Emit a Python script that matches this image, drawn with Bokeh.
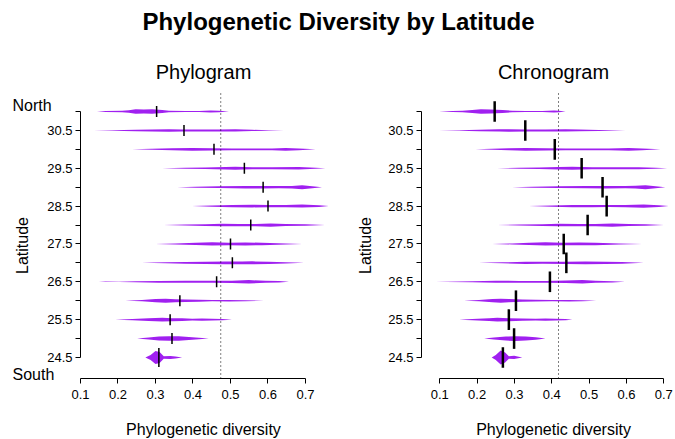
from bokeh.plotting import figure
from bokeh.layouts import column, row
from bokeh.models import Range1d, FixedTicker, Label, LinearAxis
from bokeh.core.properties import value
from bokeh.embed import file_html
from bokeh.resources import INLINE

# ---------------- data ----------------
latitudes = [31.0, 30.5, 30.0, 29.5, 29.0, 28.5, 28.0, 27.5, 27.0, 26.5, 26.0, 25.5, 25.0, 24.5]
y_label_ticks = [24.5, 25.5, 26.5, 27.5, 28.5, 29.5, 30.5]
y_minor_ticks = [25.0, 26.0, 27.0, 28.0, 29.0, 30.0, 31.0]
x_ticks = [0.1, 0.2, 0.3, 0.4, 0.5, 0.6, 0.7]

phylo_medians = [0.303, 0.376, 0.456, 0.537, 0.587, 0.600, 0.554, 0.500, 0.505, 0.463, 0.365, 0.339, 0.344, 0.309]
chrono_medians = [0.247, 0.329, 0.408, 0.480, 0.536, 0.547, 0.496, 0.432, 0.439, 0.395, 0.304, 0.285, 0.299, 0.269]
phylo_overall = 0.474
chrono_overall = 0.418

# density outlines: x positions and relative density (half-thickness)
phylo_shape_x = [
    [0.144, 0.167, 0.211, 0.229, 0.247, 0.269, 0.291, 0.318, 0.336, 0.380, 0.416, 0.447, 0.469, 0.496],
    [0.136, 0.184, 0.247, 0.291, 0.336, 0.371, 0.416, 0.469, 0.513, 0.558, 0.602, 0.642],
    [0.238, 0.291, 0.344, 0.398, 0.451, 0.504, 0.558, 0.611, 0.647, 0.682, 0.727],
    [0.318, 0.380, 0.433, 0.487, 0.513, 0.558, 0.611, 0.682, 0.727, 0.753],
    [0.358, 0.407, 0.469, 0.540, 0.584, 0.629, 0.664, 0.691, 0.718, 0.744],
    [0.398, 0.451, 0.504, 0.558, 0.602, 0.647, 0.691, 0.736, 0.762],
    [0.322, 0.380, 0.433, 0.478, 0.522, 0.567, 0.607, 0.647, 0.700, 0.752],
    [0.300, 0.353, 0.407, 0.451, 0.496, 0.540, 0.584, 0.647, 0.691],
    [0.264, 0.327, 0.380, 0.433, 0.487, 0.531, 0.558, 0.602, 0.647, 0.696],
    [0.149, 0.167, 0.202, 0.247, 0.309, 0.380, 0.451, 0.504, 0.549, 0.593, 0.629, 0.656],
    [0.220, 0.264, 0.300, 0.327, 0.353, 0.380, 0.416, 0.451, 0.496, 0.540, 0.589],
    [0.193, 0.238, 0.282, 0.318, 0.344, 0.371, 0.398, 0.424, 0.451, 0.478, 0.504],
    [0.251, 0.282, 0.309, 0.336, 0.362, 0.389, 0.416, 0.442],
    [0.273, 0.287, 0.300, 0.311, 0.322, 0.340, 0.353, 0.371],
]
phylo_shape_d = [
    [0, 0.5, 0.7, 1.3, 2.2, 2.0, 2.2, 1.5, 0.8, 0.6, 0.6, 1.0, 0.8, 0],
    [0, 0.3, 0.7, 1.0, 1.2, 1.0, 1.0, 1.0, 1.1, 0.6, 0.3, 0],
    [0, 0.5, 1.0, 1.3, 1.1, 0.9, 0.9, 0.9, 1.3, 0.8, 0],
    [0, 0.6, 0.8, 1.3, 1.4, 1.0, 0.9, 1.2, 0.6, 0],
    [0, 0.5, 0.9, 1.2, 1.2, 1.1, 1.3, 2.0, 1.0, 0],
    [0, 0.6, 1.1, 1.3, 1.1, 1.2, 1.5, 0.9, 0],
    [0, 0.5, 0.9, 1.2, 1.1, 1.1, 1.6, 1.0, 0.8, 0],
    [0, 0.5, 1.1, 1.6, 1.3, 1.5, 1.2, 0.5, 0],
    [0, 0.5, 0.9, 1.2, 1.3, 1.3, 1.5, 1.1, 0.7, 0],
    [0, 0.2, 0.1, 0.5, 0.9, 1.0, 1.0, 1.1, 1.7, 1.0, 0.7, 0],
    [0, 0.6, 1.6, 2.0, 1.5, 1.2, 1.0, 0.6, 0.7, 0.5, 0],
    [0, 0.7, 1.3, 1.9, 1.5, 1.3, 0.8, 1.2, 0.9, 0.6, 0],
    [0, 1.0, 2.0, 2.3, 2.2, 1.5, 0.8, 0],
    [0, 2.5, 6.5, 5.5, 1.2, 1.5, 1.0, 0],
]
chrono_shape_x = [
    [0.098, 0.134, 0.161, 0.187, 0.210, 0.236, 0.268, 0.294, 0.330, 0.375, 0.406, 0.419, 0.437],
    [0.098, 0.152, 0.205, 0.259, 0.285, 0.330, 0.383, 0.437, 0.473, 0.526, 0.562, 0.597],
    [0.196, 0.241, 0.285, 0.330, 0.383, 0.437, 0.490, 0.553, 0.606, 0.642, 0.691],
    [0.254, 0.312, 0.366, 0.419, 0.455, 0.508, 0.562, 0.633, 0.678, 0.709],
    [0.294, 0.348, 0.419, 0.490, 0.544, 0.597, 0.624, 0.651, 0.678, 0.704],
    [0.339, 0.401, 0.455, 0.508, 0.553, 0.597, 0.646, 0.687, 0.713],
    [0.254, 0.312, 0.375, 0.419, 0.473, 0.517, 0.562, 0.606, 0.651, 0.700],
    [0.241, 0.294, 0.339, 0.383, 0.428, 0.473, 0.517, 0.580, 0.642],
    [0.205, 0.268, 0.330, 0.375, 0.437, 0.490, 0.544, 0.588, 0.646],
    [0.089, 0.116, 0.187, 0.250, 0.312, 0.383, 0.437, 0.482, 0.517, 0.562, 0.596],
    [0.165, 0.205, 0.241, 0.263, 0.285, 0.321, 0.357, 0.401, 0.446, 0.482, 0.519],
    [0.152, 0.187, 0.232, 0.254, 0.285, 0.321, 0.357, 0.383, 0.410, 0.437, 0.455],
    [0.219, 0.245, 0.277, 0.303, 0.330, 0.357, 0.383],
    [0.239, 0.250, 0.263, 0.275, 0.285, 0.299, 0.321],
]
chrono_shape_d = [
    [0, 0.5, 0.8, 1.5, 2.2, 2.0, 1.5, 0.8, 0.6, 0.6, 1.0, 0.8, 0],
    [0, 0.3, 0.7, 1.1, 1.2, 1.0, 1.0, 1.1, 0.9, 0.5, 0.3, 0],
    [0, 0.5, 1.0, 1.3, 1.1, 0.9, 0.9, 0.9, 1.3, 0.8, 0],
    [0, 0.6, 0.8, 1.3, 1.4, 1.0, 0.9, 1.1, 0.6, 0],
    [0, 0.5, 0.9, 1.1, 1.2, 1.1, 1.4, 2.0, 1.0, 0],
    [0, 0.6, 1.1, 1.2, 1.0, 1.1, 1.6, 0.9, 0],
    [0, 0.5, 0.9, 1.2, 1.1, 1.1, 1.6, 1.0, 0.8, 0],
    [0, 0.5, 1.1, 1.6, 1.3, 1.4, 1.2, 0.5, 0],
    [0, 0.5, 1.2, 1.0, 1.1, 1.3, 1.2, 0.8, 0],
    [0, 0.1, 0.5, 1.0, 0.9, 0.9, 1.2, 1.8, 1.0, 0.6, 0],
    [0, 0.6, 1.6, 2.0, 1.6, 1.1, 0.9, 0.6, 0.7, 0.5, 0],
    [0, 0.7, 1.4, 1.9, 1.5, 1.1, 0.8, 1.2, 0.8, 0.6, 0],
    [0, 1.0, 2.0, 2.4, 2.0, 1.2, 0],
    [0, 2.5, 7.0, 5.0, 1.2, 1.6, 0],
]

# ---------------- styles / layout ----------------
PURPLE = "#A020F0"
FONT = "Liberation Sans"
LAT_PER_PX = 1.0 / 37.84
TOP_H = 44
PANEL_H = 395
Y_START, Y_END = 22.332, 32.771          # whole panel height
REGION_LO, REGION_HI = 23.944, 31.555    # R plot region (x axis sits at REGION_LO)
phylo_tick_half_px = [5.5] * 13 + [9.5]
chrono_tick_half_px = [10.3] * 14


def make_panel(width, x_start, x_end, yaxis_at, shapes_x, shapes_d, medians,
               tick_half_px, tick_width, overall, title, title_x, ylab_x, north_south):
    p = figure(width=width, height=PANEL_H, output_backend="svg", toolbar_location=None,
               x_range=Range1d(x_start, x_end), y_range=Range1d(Y_START, Y_END),
               x_axis_type=None, y_axis_type=None, min_border=0)
    p.outline_line_color = None
    p.background_fill_color = "white"
    p.border_fill_color = "white"

    xs, ys = [], []
    for lat, sx, sd in zip(latitudes, shapes_x, shapes_d):
        upper = [lat + d * LAT_PER_PX for d in sd]
        lower = [lat - d * LAT_PER_PX for d in sd]
        xs.append(list(sx) + list(reversed(sx)))
        ys.append(upper + list(reversed(lower)))
    p.patches(xs, ys, fill_color=PURPLE, line_color=None, fill_alpha=1.0)

    p.segment(x0=[overall], y0=[REGION_LO], x1=[overall], y1=[REGION_HI],
              line_color="black", line_dash="1 3", line_width=1)

    y0 = [lat - h * LAT_PER_PX for lat, h in zip(latitudes, tick_half_px)]
    y1 = [lat + h * LAT_PER_PX for lat, h in zip(latitudes, tick_half_px)]
    p.segment(x0=medians, y0=y0, x1=medians, y1=y1, line_color="black", line_width=tick_width)

    xaxis = LinearAxis(ticker=FixedTicker(ticks=x_ticks), fixed_location=REGION_LO,
                       bounds=(x_ticks[0], x_ticks[-1]), major_label_standoff=6)
    yaxis = LinearAxis(ticker=FixedTicker(ticks=y_label_ticks, minor_ticks=y_minor_ticks),
                       fixed_location=yaxis_at, bounds=(24.5, 31.0), major_label_standoff=3,
                       major_label_orientation="horizontal")
    for ax in (xaxis, yaxis):
        ax.axis_line_color = "black"
        ax.axis_line_width = 1
        ax.major_tick_line_color = "black"
        ax.minor_tick_line_color = "black"
        ax.major_tick_in = 0
        ax.major_tick_out = 5
        ax.minor_tick_in = 0
        ax.minor_tick_out = 5
        ax.major_label_text_font = FONT
        ax.major_label_text_font_size = "13px"
        ax.major_label_text_color = "black"
    p.add_layout(xaxis, "below")
    p.add_layout(yaxis, "left")

    def lab(x, y, text, size, angle=0.0, align="center"):
        p.add_layout(Label(x=x, y=y, text=text, text_font=FONT, text_font_size=size,
                           text_color="black", text_align=align, text_baseline="middle",
                           angle=angle))

    lab(title_x, 32.057, title, "20px")
    lab(title_x, 22.585, "Phylogenetic diversity", "16px")
    lab(ylab_x, 27.459, "Latitude", "16px", angle=1.5708)
    if north_south:
        lab(-0.0813, 31.159, "North", "16px", align="left")
        lab(-0.0813, 24.050, "South", "16px", align="left")
    return p


left = make_panel(338, -0.1133, 0.788, 0.1, phylo_shape_x, phylo_shape_d, phylo_medians,
                  phylo_tick_half_px, 1.5, phylo_overall, "Phylogram", 0.428, -0.0547, True)
right = make_panel(337, -0.17136, 0.7314, 0.051, chrono_shape_x, chrono_shape_d, chrono_medians,
                   chrono_tick_half_px, 2.5, chrono_overall, "Chronogram", 0.4046, -0.099, False)

top = figure(width=675, height=TOP_H, output_backend="svg", toolbar_location=None,
             x_range=Range1d(0, 675), y_range=Range1d(0, TOP_H),
             x_axis_type=None, y_axis_type=None, min_border=0)
top.outline_line_color = None
top.grid.visible = False
top.text(x=[338], y=[23], text=["Phylogenetic Diversity by Latitude"],
         text_font=value(FONT), text_font_style="bold", text_font_size="24px",
         text_align="center", text_baseline="middle", text_color="black")

layout = column(top, row(left, right, spacing=0), spacing=0)
open("out.html", "w").write(file_html(layout, INLINE))
